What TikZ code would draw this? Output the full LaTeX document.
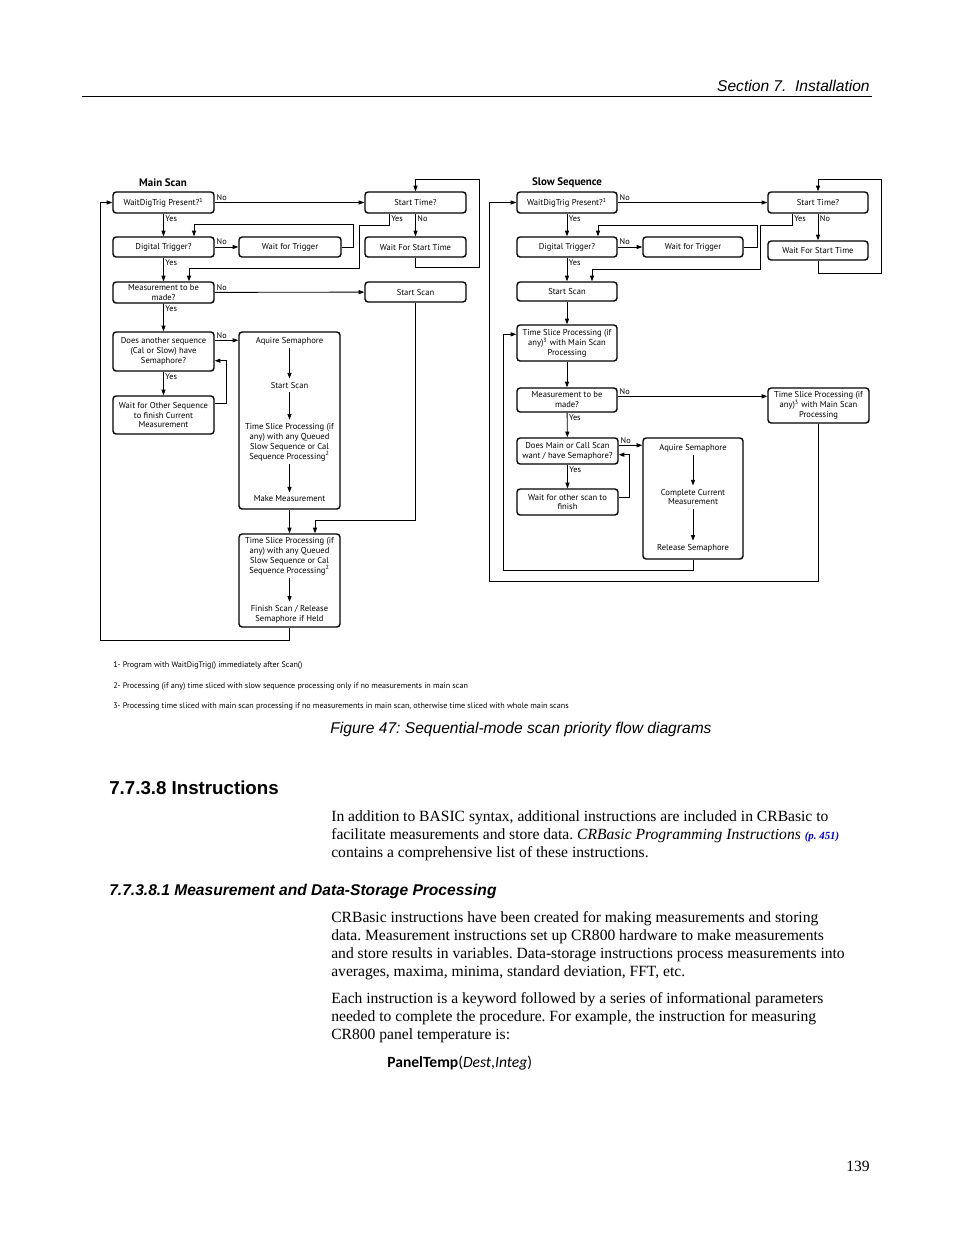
\documentclass[tikz,border=0pt]{standalone}
\usepackage{fontspec}
\usepackage{xcolor}
\setmainfont{Liberation Serif}
\newfontfamily\arialfont{Liberation Sans}
\newfontfamily\flowfont{PT Sans}
\newfontfamily\calfont{Carlito}
\usetikzlibrary{arrows.meta,calc}
\frenchspacing

\begin{document}
\begin{tikzpicture}[x=0.6415pt, y=-0.6415pt,
    sz/.style 2 args={minimum width=#1*0.6415pt, minimum height=#2*0.6415pt},
    box/.style={draw, rounded corners=2pt, line width=0.9pt, align=center, inner sep=0pt, font=\flowfont\fontsize{5.5}{6.4}\selectfont},
    txt/.style={align=center, inner sep=2pt, font=\flowfont\fontsize{5.5}{6.4}\selectfont},
    lbl/.style={inner sep=1pt, font=\flowfont\fontsize{5.3}{6}\selectfont},
    ttl/.style={inner sep=0pt, font=\flowfont\bfseries\fontsize{7}{8}\selectfont},
    note/.style={inner sep=0pt, anchor=west, font=\flowfont\fontsize{5.2}{6}\selectfont},
    body/.style={inner sep=0pt, anchor=base west, font=\fontsize{10}{12}\selectfont},
    arr/.style={-{Triangle[length=3.6pt,width=2.6pt]}, line width=0.55pt},
    ln/.style={line width=0.55pt}]
    \useasboundingbox (0,0) rectangle (954,1235);

    % page header
    \node[inner sep=0pt, anchor=base east, font=\arialfont\itshape\fontsize{10}{12}\selectfont] (hdr) at (870,91) {Section 7.\ \ Installation};
    \draw[line width=0.6pt] (82,96) -- (872,96);

    % main scan
    \node[ttl] (mainT) at (163,183) {Main Scan};
    \node[box, sz={101}{21}] (wdtA) at (163.5,202.5) {WaitDigTrig Present?\textsuperscript{1}};
    \node[box, sz={101}{21}] (stA) at (415.5,202.5) {Start Time?};
    \node[box, sz={101}{20}] (dtA) at (163.5,247) {Digital Trigger?};
    \node[box, sz={102}{20}] (wftA) at (290,247) {Wait for Trigger};
    \node[box, sz={101}{20}] (wstA) at (415.5,247) {Wait For Start Time};
    \node[box, sz={101}{21}] (measA) at (163.5,292.5) {Measurement to be\\made?};
    \node[box, sz={101}{20}] (ssA) at (415.5,292) {Start Scan};
    \node[box, sz={101}{39}] (semA) at (163.5,351.5) {Does another sequence\\(Cal or Slow) have\\Semaphore?};
    \node[box, sz={101}{38}] (wosA) at (163.5,415) {Wait for Other Sequence\\to finish Current\\Measurement};
    \node[box, sz={101}{177}] (procA) at (289.5,420.5) {};
    \node[txt] (aqA) at (289.5,341) {Aquire Semaphore};
    \node[txt] (scA) at (289.5,385) {Start Scan};
    \node[txt] (tsA) at (289.5,442) {Time Slice Processing (if\\any) with any Queued\\Slow Sequence or Cal\\Sequence Processing\textsuperscript{2}};
    \node[txt] (mmA) at (289.5,499) {Make Measurement};
    \node[box, sz={101}{93}] (finA) at (289.5,580.5) {};
    \node[txt] (ts2A) at (289.5,556) {Time Slice Processing (if\\any) with any Queued\\Slow Sequence or Cal\\Sequence Processing\textsuperscript{2}};
    \node[txt] (frA) at (289.5,614) {Finish Scan / Release\\Semaphore if Held};

    \draw[arr] (wdtA) -- node[lbl, at start, anchor=south west] {No} (stA);
    \draw[arr] (wdtA) -- node[lbl, at start, anchor=north west] {Yes} (dtA);
    \draw[arr] (dtA) -- node[lbl, at start, anchor=south west] {No} (wftA);
    \draw[arr] (wftA.east) -- ++(12,0) |- ($(dtA.north)+(30.5,-12)$) -- ($(dtA.north)+(30.5,0)$);
    \draw[arr] ($(stA.south west)+(25,0)$) node[lbl, anchor=north west] {Yes} -- ++(0,12) -| ++(-30,43) -| ($(measA.north)+(25.5,0)$);
    \draw[arr] (stA) -- node[lbl, at start, anchor=north west] {No} (wstA);
    \draw[arr] (wstA.south) -- ++(0,10) -| ($(stA.north)+(63.5,-12)$) -- ($(stA.north)+(0,-12)$) -- (stA.north);
    \draw[arr] (dtA) -- node[lbl, at start, anchor=north west] {Yes} (measA);
    \draw[arr] (measA) -- node[lbl, at start, anchor=south west] {No} (ssA);
    \draw[arr] (ssA.south) |- ($(finA.north)+(25.5,-13)$) -- ($(finA.north)+(25.5,0)$);
    \draw[arr] (measA) -- node[lbl, at start, anchor=north west] {Yes} (semA);
    \draw[arr] ($(semA.north east)+(0,9)$) node[lbl, anchor=south west] {No} -- ($(procA.north west)+(0,9)$);
    \draw[arr] (semA) -- node[lbl, at start, anchor=north west] {Yes} (wosA);
    \draw[arr] ($(wosA.north east)+(0,8)$) -- ++(12,0) |- ($(semA.south east)+(0,-11)$);
    \draw[arr] (aqA) -- (scA);
    \draw[arr] (scA) -- (tsA);
    \draw[arr] (tsA) -- (mmA);
    \draw[arr] (procA) -- (finA);
    \draw[arr] (ts2A) -- (frA);
    \draw[arr] (finA.south) -- ++(0,13) -| ($(wdtA.west)+(-12,0)$) -- (wdtA.west);

    % slow sequence
    \node[ttl] (slowT) at (567,183) {Slow Sequence};
    \node[box, sz={100}{21}] (wdtB) at (567,202.5) {WaitDigTrig Present?\textsuperscript{1}};
    \node[box, sz={100}{21}] (stB) at (818,202.5) {Start Time?};
    \node[box, sz={100}{20}] (dtB) at (567,247) {Digital Trigger?};
    \node[box, sz={100}{20}] (wftB) at (693,247) {Wait for Trigger};
    \node[box, sz={100}{19}] (wstB) at (818,250.5) {Wait For Start Time};
    \node[box, sz={100}{19}] (ssB) at (567,291.5) {Start Scan};
    \node[box, sz={100}{36}] (tsmB) at (567,343) {Time Slice Processing (if\\any)\textsuperscript{3} with Main Scan\\Processing};
    \node[box, sz={100}{24}] (measB) at (567,400) {Measurement to be\\made?};
    \node[box, sz={101}{35}] (tsnB) at (818.5,405.5) {Time Slice Processing (if\\any)\textsuperscript{3} with Main Scan\\Processing};
    \node[box, sz={101}{26}] (semB) at (567.5,451) {Does Main or Call Scan\\want / have Semaphore?};
    \node[box, sz={101}{26}] (wosB) at (567.5,502) {Wait for other scan to\\finish};
    \node[box, sz={100}{121}] (procB) at (693,498.5) {};
    \node[txt] (aqB) at (693,448) {Aquire Semaphore};
    \node[txt] (ccB) at (693,497) {Complete Current\\Measurement};
    \node[txt] (rsB) at (693,548) {Release Semaphore};

    \draw[arr] (wdtB) -- node[lbl, at start, anchor=south west] {No} (stB);
    \draw[arr] (wdtB) -- node[lbl, at start, anchor=north west] {Yes} (dtB);
    \draw[arr] (dtB) -- node[lbl, at start, anchor=south west] {No} (wftB);
    \draw[arr] (wftB.east) -- ++(14,0) |- ($(dtB.north)+(31,-11)$) -- ($(dtB.north)+(31,0)$);
    \draw[arr] ($(stB.south west)+(25,0)$) node[lbl, anchor=north west] {Yes} -- ++(0,12) -| ++(-32,44) -| ($(ssB.north)+(25,0)$);
    \draw[arr] (stB) -- node[lbl, at start, anchor=north west] {No} (wstB);
    \draw[arr] (wstB.south) -- ++(0,13) -| ($(stB.north)+(63,-12)$) -- ($(stB.north)+(0,-12)$) -- (stB.north);
    \draw[arr] (dtB) -- node[lbl, at start, anchor=north west] {Yes} (ssB);
    \draw[arr] (ssB) -- (tsmB);
    \draw[arr] (tsmB) -- (measB);
    \draw[arr] ($(measB.north east)+(0,9)$) node[lbl, anchor=south west] {No} -- ($(tsnB.north west)+(0,9)$);
    \draw[arr] (tsnB.south) -- ++(0,158) -| ($(wdtB.west)+(-27,0)$) -- (wdtB.west);
    \draw[arr] (measB) -- node[lbl, at start, anchor=north west] {Yes} (semB);
    \draw[arr] ($(semB.north east)+(0,8)$) node[lbl, anchor=south west] {No} -- ($(procB.north west)+(0,8)$);
    \draw[arr] (semB) -- node[lbl, at start, anchor=north west] {Yes} (wosB);
    \draw[arr] ($(wosB.north east)+(0,9)$) -- ++(11,0) |- ($(semB.south east)+(0,-10)$);
    \draw[arr] (aqB) -- (ccB);
    \draw[arr] (ccB) -- (rsB);
    \draw[arr] (procB.south) -- ++(0,11) -| ($(tsmB.north west)+(-13,10)$) -- ($(tsmB.north west)+(0,10)$);

    % footnotes
    \node[note] (fn1) at (113,665) {1- Program with WaitDigTrig() immediately after Scan()};
    \node[note] (fn2) at (113,686) {2- Processing (if any) time sliced with slow sequence processing only if no measurements in main scan};
    \node[note] (fn3) at (113,706) {3- Processing time sliced with main scan processing if no measurements in main scan, otherwise time sliced with whole main scans};

    % caption and text
    \node[inner sep=0pt, anchor=base, font=\arialfont\itshape\fontsize{10}{12}\selectfont] (cap) at (521,733) {Figure 47: Sequential-mode scan priority flow diagrams};
    \node[inner sep=0pt, anchor=base west, font=\arialfont\bfseries\fontsize{12}{14}\selectfont] (h1) at (109,794) {7.7.3.8 Instructions};
    \node[body] (p1a) at (331,821) {In addition to BASIC syntax, additional instructions are included in CRBasic to};
    \node[body] (p1b) at (331,839) {facilitate measurements and store data. \textit{CRBasic Programming Instructions} {\color{blue!75!black}\bfseries\itshape\fontsize{7}{9}\selectfont(p. 451)}};
    \node[body] (p1c) at (331,857) {contains a comprehensive list of these instructions.};
    \node[inner sep=0pt, anchor=base west, font=\arialfont\bfseries\itshape\fontsize{10}{12}\selectfont] (h2) at (109,895) {7.7.3.8.1 Measurement and Data-Storage Processing};
    \node[body] (p2a) at (331,922) {CRBasic instructions have been created for making measurements and storing};
    \node[body] (p2b) at (331,940) {data. Measurement instructions set up CR800 hardware to make measurements};
    \node[body] (p2c) at (331,958) {and store results in variables. Data-storage instructions process measurements into};
    \node[body] (p2d) at (331,976) {averages, maxima, minima, standard deviation, FFT, etc.};
    \node[body] (p3a) at (331,1003) {Each instruction is a keyword followed by a series of informational parameters};
    \node[body] (p3b) at (331,1021) {needed to complete the procedure. For example, the instruction for measuring};
    \node[body] (p3c) at (331,1039) {CR800 panel temperature is:};
    \node[inner sep=0pt, anchor=base west, font=\calfont\fontsize{10}{12}\selectfont] (code) at (387,1067) {\textbf{PanelTemp}(\textit{Dest},\textit{Integ})};
    \node[inner sep=0pt, anchor=base east, font=\fontsize{10}{12}\selectfont] (pg) at (870,1171) {139};
\end{tikzpicture}
\end{document}
